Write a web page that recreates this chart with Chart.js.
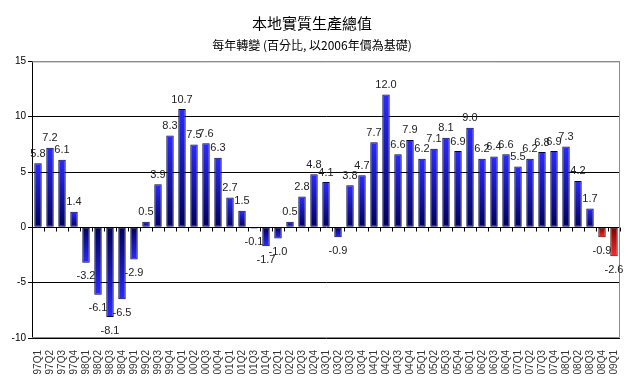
<!DOCTYPE html>
<html>
<head>
<meta charset="utf-8">
<script src="https://cdn.jsdelivr.net/npm/chart.js@4/dist/chart.umd.min.js"></script>
<style>
  html, body { margin: 0; padding: 0; background: #fff; }
  #wrap { width: 644px; height: 390px; }
</style>
</head>
<body>
<div id="wrap"><canvas id="myChart" width="644" height="390"></canvas></div>
<script>
'use strict';
// quarters 97Q1 .. 09Q1
const quarters = ['97Q1','97Q2','97Q3','97Q4','98Q1','98Q2','98Q3','98Q4','99Q1','99Q2','99Q3','99Q4',
  '00Q1','00Q2','00Q3','00Q4','01Q1','01Q2','01Q3','01Q4','02Q1','02Q2','02Q3','02Q4',
  '03Q1','03Q2','03Q3','03Q4','04Q1','04Q2','04Q3','04Q4','05Q1','05Q2','05Q3','05Q4',
  '06Q1','06Q2','06Q3','06Q4','07Q1','07Q2','07Q3','07Q4','08Q1','08Q2','08Q3','08Q4','09Q1'];
const growth = [5.8,7.2,6.1,1.4,-3.2,-6.1,-8.1,-6.5,-2.9,0.5,3.9,8.3,
  10.7,7.5,7.6,6.3,2.7,1.5,-0.1,-1.7,-1.0,0.5,2.8,4.8,
  4.1,-0.9,3.8,4.7,7.7,12.0,6.6,7.9,6.2,7.1,8.1,6.9,
  9.0,6.2,6.4,6.6,5.5,6.2,6.8,6.9,7.3,4.2,1.7,-0.9,-2.6];
// last two quarters shown in red
const redFrom = 47;
const yTicks = [-10, -5, 0, 5, 10, 15];

const titleText = '本地實質生產總值';
const subtitleText = '每年轉變 (百分比, 以2006年價為基礎)';
const fontFam = '"Liberation Sans", Arial, sans-serif';
const cjkFam = '"Noto Sans CJK TC", "Noto Sans", sans-serif';

function barFill(ctx) {
  const chart = ctx.chart;
  const red = ctx.dataIndex >= redFrom;
  if (!chart.chartArea) return red ? '#d00000' : '#0000c0';
  const y = chart.scales.y;
  const y0 = y.getPixelForValue(0);
  const y1 = y.getPixelForValue(ctx.raw);
  const g = chart.ctx.createLinearGradient(0, y1, 0, y0 === y1 ? y1 + 1 : y0);
  if (red) {
    g.addColorStop(0, '#ff2a2a');
    g.addColorStop(1, '#7a0000');
  } else {
    g.addColorStop(0, '#2a2aff');
    g.addColorStop(1, '#00005a');
  }
  return g;
}

// frame, zero-line ticks and value labels
const extras = {
  id: 'extras',
  beforeDatasetsDraw(chart) {
    const a = chart.chartArea;
    const c = chart.ctx;
    c.save();
    c.strokeStyle = '#8c8c8c';
    c.lineWidth = 1;
    c.beginPath();
    c.moveTo(a.left, a.top + 0.5);
    c.lineTo(a.right - 0.5, a.top + 0.5);
    c.lineTo(a.right - 0.5, a.bottom - 0.5);
    c.lineTo(a.left, a.bottom - 0.5);
    c.stroke();
    // category ticks on zero line
    const y0 = Math.round(chart.scales.y.getPixelForValue(0)) + 0.5;
    const step = (a.right - a.left) / quarters.length;
    c.strokeStyle = '#000';
    c.beginPath();
    for (let i = 0; i <= quarters.length; i++) {
      const x = Math.round(a.left + i * step) + 0.5;
      c.moveTo(x, y0);
      c.lineTo(x, y0 + 4);
    }
    c.stroke();
    c.restore();
  },
  afterDatasetsDraw(chart) {
    const c = chart.ctx;
    const meta = chart.getDatasetMeta(0);
    c.save();
    c.font = '11px ' + fontFam;
    c.fillStyle = '#222';
    c.textAlign = 'center';
    meta.data.forEach((bar, i) => {
      const v = growth[i];
      const txt = v.toFixed(1);
      if (v >= 0) {
        c.textBaseline = 'bottom';
        c.fillText(txt, bar.x, bar.y - 4);
      } else {
        c.textBaseline = 'top';
        c.fillText(txt, bar.x, bar.y + 8);
      }
    });
    c.restore();
  }
};

const ctx = document.getElementById('myChart').getContext('2d');
const chart = new Chart(ctx, {
  type: 'bar',
  data: {
    labels: quarters,
    datasets: [{
      data: growth,
      backgroundColor: barFill,
      borderColor: (c) => c.dataIndex >= redFrom ? '#500000' : '#000040',
      borderWidth: 1,
      borderSkipped: false,
      barPercentage: 0.62,
      categoryPercentage: 1
    }]
  },
  options: {
    responsive: false,
    animation: false,
    layout: { padding: { left: 4, right: 24, top: 0, bottom: 0 } },
    plugins: {
      legend: { display: false },
      tooltip: { enabled: false },
      title: {
        display: true,
        text: titleText,
        color: '#000',
        font: { family: cjkFam, size: 15, weight: 'normal' },
        padding: { top: 14, bottom: 6 }
      },
      subtitle: {
        display: true,
        text: subtitleText,
        color: '#000',
        font: { family: cjkFam, size: 12, weight: 'normal' },
        padding: { top: 0, bottom: 9 }
      }
    },
    scales: {
      x: {
        grid: { display: false },
        border: { display: false },
        afterFit: (s) => { s.height = 52; },
        ticks: {
          autoSkip: false,
          maxRotation: 90,
          minRotation: 90,
          padding: 4,
          color: '#333',
          font: { family: fontFam, size: 10 }
        }
      },
      y: {
        min: -10,
        max: 15,
        afterBuildTicks: (s) => { s.ticks = yTicks.map(v => ({ value: v })); },
        afterFit: (s) => { s.width = 28; },
        grid: {
          color: (c) => c.tick && c.tick.value === 15 ? '#8c8c8c' : '#000',
          tickColor: '#000',
          tickLength: 4,
          lineWidth: 1
        },
        border: { display: true, color: '#000' },
        ticks: {
          padding: 2,
          color: '#000',
          font: { family: fontFam, size: 10 }
        }
      }
    }
  },
  plugins: [extras]
});
</script>
</body>
</html>
